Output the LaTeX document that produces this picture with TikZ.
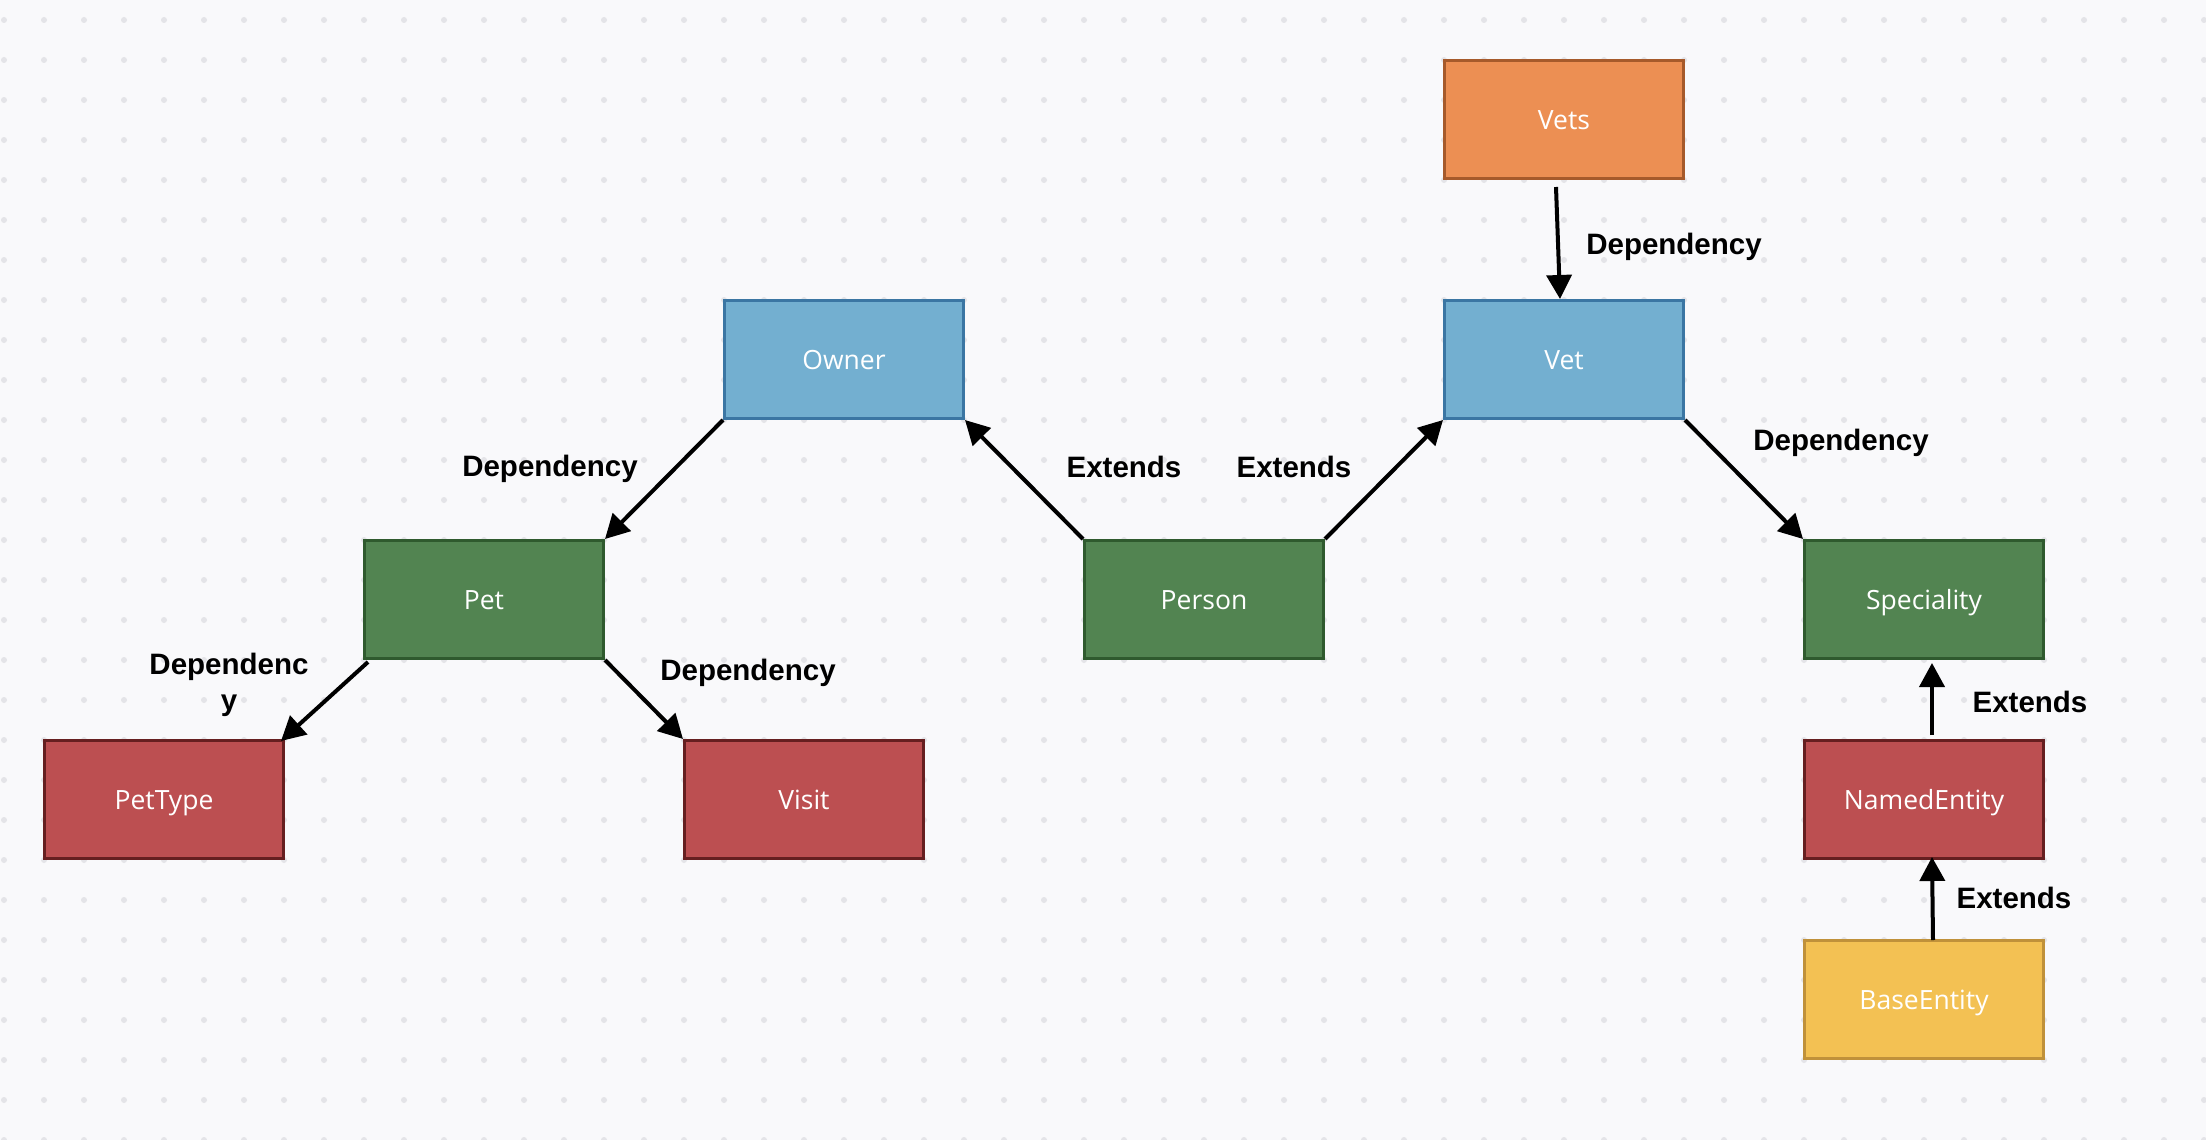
\documentclass[tikz,border=0pt]{standalone}
\usepackage{fontspec}
\setmainfont{Open Sans}
\newfontfamily\labelfont{Liberation Sans}
\usetikzlibrary{arrows.meta,calc}

\definecolor{canvas}{HTML}{F9F9FB}
\definecolor{griddot}{HTML}{E4E4E8}
\definecolor{orangefill}{HTML}{EC8F53}
\definecolor{orangeline}{HTML}{A65A2B}
\definecolor{bluefill}{HTML}{73AFD0}
\definecolor{blueline}{HTML}{3B76A3}
\definecolor{greenfill}{HTML}{528451}
\definecolor{greenline}{HTML}{2F5A2E}
\definecolor{redfill}{HTML}{BC4F51}
\definecolor{redline}{HTML}{661F20}
\definecolor{yellowfill}{HTML}{F3C153}
\definecolor{yellowline}{HTML}{C0913A}

\tikzset{
  box/.style={draw, line width=3pt, minimum width=239pt, minimum height=118pt,
    inner sep=0pt, text=white, font=\fontsize{26.5}{32}\selectfont,
    text height=19pt, text depth=0pt},
  orangebox/.style={box, fill=orangefill, draw=orangeline},
  bluebox/.style={box, fill=bluefill, draw=blueline},
  greenbox/.style={box, fill=greenfill, draw=greenline},
  redbox/.style={box, fill=redfill, draw=redline},
  yellowbox/.style={box, fill=yellowfill, draw=yellowline},
  link/.style={line width=4pt, -{Triangle[width=25pt,length=24pt]}},
  tag/.style={anchor=base, inner sep=0pt,
    font=\labelfont\bfseries\fontsize{29.5}{36}\selectfont},
}

\begin{document}
\begin{tikzpicture}[x=1pt,y=-1pt]
  % canvas with dotted grid
  \fill[canvas] (0,0) rectangle (2206,1140);
  \useasboundingbox (0,0) rectangle (2206,1140);
  \foreach \i in {0,...,55}
    \foreach \j in {0,...,28}
      \fill[griddot] (4+40*\i,20+40*\j) circle (3pt);

  % classes
  \node[orangebox] (vets)       at (1564,119.5) {Vets};
  \node[bluebox]   (owner)      at (844,359.5)  {Owner};
  \node[bluebox]   (vet)        at (1564,359.5) {Vet};
  \node[greenbox]  (pet)        at (484,599.5)  {Pet};
  \node[greenbox]  (person)     at (1204,599.5) {Person};
  \node[greenbox]  (speciality) at (1924,599.5) {Speciality};
  \node[redbox]    (pettype)    at (164,799.5)  {PetType};
  \node[redbox]    (visit)      at (804,799.5)  {Visit};
  \node[redbox]    (named)      at (1924,799.5) {NamedEntity};
  \node[yellowbox] (base)       at (1924,999.5) {BaseEntity};

  % relations
  \draw[link] ($(vets.south)+(-8,7)$) -- ($(vet.north)+(-4,0)$);
  \draw[link] (vet.south east) -- (speciality.north west);
  \draw[link] (person.north west) -- (owner.south east);
  \draw[link] (person.north east) -- (vet.south west);
  \draw[link] (owner.south west) -- (pet.north east);
  \draw[link] ($(pet.south west)+(5,2)$) -- ($(pettype.north east)+(-4,2)$);
  \draw[link] (pet.south east) -- (visit.north west);
  \draw[link] ($(named.north)+(8,-4)$) -- ($(speciality.south)+(8,3)$);
  \draw[link] ($(base.north)+(9,1)$) -- ($(named.south)+(8,-3)$);

  % relation labels
  \node[tag] (l1) at (1674,254) {Dependency};
  \node[tag] (l2) at (1841,450) {Dependency};
  \node[tag] (l3) at (1124,477) {Extends};
  \node[tag] (l4) at (1294,477) {Extends};
  \node[tag] (l5) at (550,476)  {Dependency};
  \node[tag, align=center] (l6) at (229,710) {Dependenc\\y};
  \node[tag] (l7) at (748,680)  {Dependency};
  \node[tag] (l8) at (2030,712) {Extends};
  \node[tag] (l9) at (2014,908) {Extends};
\end{tikzpicture}
\end{document}
